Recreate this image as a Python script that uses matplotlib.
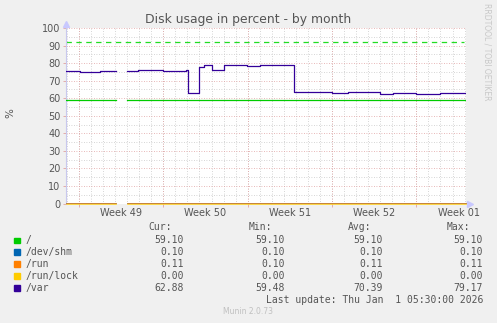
import numpy as np
import matplotlib
matplotlib.use("Agg")
import matplotlib.pyplot as plt
from matplotlib.patches import Rectangle

nan = np.nan

# x = days from left edge of the graph
week_starts = [1.08, 8.08, 15.08, 22.08, 29.08]
week_labels = ["Week 49", "Week 50", "Week 51", "Week 52", "Week 01"]

root_t = [0.0, 4.15, 5.05, 33.2]
root_v = [59.1, nan, 59.1, 59.1]

shm_t = [0.0, 4.15, 5.05, 33.2]
shm_v = [0.10, nan, 0.10, 0.10]

run_t = [0.0, 4.15, 5.05, 33.2]
run_v = [0.11, nan, 0.11, 0.11]

lock_t = [0.0, 4.15, 5.05, 33.2]
lock_v = [0.0, nan, 0.0, 0.0]

var_t = [0.0, 1.15, 2.8, 4.15, 5.05, 6.0, 8.05, 10.0, 10.15, 11.05, 11.45,
         12.1, 13.1, 15.0, 16.1, 18.9, 22.05, 23.4, 26.05, 27.15, 29.05,
         31.05, 33.2]
var_v = [75.3, 74.8, 75.3, nan, 75.3, 75.9, 75.3, 75.9, 62.9, 78.0, 78.9,
         76.0, 78.9, 78.4, 78.9, 63.3, 62.9, 63.3, 62.4, 62.9, 62.4,
         62.9, 62.9]

warning = 92

names = ["/", "/dev/shm", "/run", "/run/lock", "/var"]
colors = ["#00cc00", "#0066b3", "#ff8000", "#ffcc00", "#330099"]
cur = ["59.10", "0.10", "0.11", "0.00", "62.88"]
mins = ["59.10", "0.10", "0.10", "0.00", "59.48"]
avgs = ["59.10", "0.10", "0.11", "0.00", "70.39"]
maxs = ["59.10", "0.10", "0.11", "0.00", "79.17"]

W, H = 497, 323
bg = "#f0f0f0"
txt = "#555555"

fig = plt.figure(figsize=(W / 100, H / 100), dpi=100, facecolor=bg)
ax = fig.add_axes([66 / W, (H - 203.5) / H, 400 / W, 175.5 / H])
ax.set_facecolor("white")
ax.set_xlim(0, 33.2)
ax.set_ylim(0, 100)

# grid
for d in np.arange(week_starts[0] - 1, 33.2, 1.0):
    if d <= 0:
        continue
    ax.axvline(d, color="#c8c8c8", lw=0.6, ls=(0, (1, 2)), zorder=0)
for y in range(5, 100, 10):
    ax.axhline(y, color="#c8c8c8", lw=0.6, ls=(0, (1, 2)), zorder=0)
for d in week_starts:
    ax.axvline(d, color="#e0a0a0", lw=0.6, ls=(0, (1, 2)), zorder=0)
for y in range(10, 101, 10):
    ax.axhline(y, color="#e0a0a0", lw=0.6, ls=(0, (1, 2)), zorder=0)

ax.plot([0, 33.0], [warning, warning], color="#22dd22", lw=0.9,
        dashes=(4.3, 3.6), zorder=2)

series = [(root_t, root_v), (shm_t, shm_v), (run_t, run_v),
          (lock_t, lock_v), (var_t, var_v)]
for (t, v), c in zip(series, colors):
    low = np.nanmax(v) < 1
    ax.plot(t, v, color=c, lw=0.5 if low else 0.9, drawstyle="steps-post",
            zorder=3, clip_on=not low)

for s in ["top", "right", "bottom"]:
    ax.spines[s].set_visible(False)
ax.spines["left"].set_color("#c8c8ee")
ax.spines["left"].set_linewidth(0.8)

ax.set_yticks(range(0, 101, 10))
ax.set_xticks(week_starts)
ax.set_xticklabels([])
ax.tick_params(axis="both", length=2, width=0.6, color="#e0a0a0",
               labelsize=7, labelcolor=txt, pad=2)
for d, lab in zip(week_starts, week_labels):
    ax.text(d + 3.5, -2.5, lab, ha="center", va="top", fontsize=7,
            color=txt, clip_on=False)

# axis arrows
ax.plot(0, 1.025, marker="^", ms=4, color="#c8c8ff", transform=ax.transAxes,
        clip_on=False)
ax.plot(1.01, 0, marker=">", ms=4, color="#c8c8ff", transform=ax.transAxes,
        clip_on=False)

fig.text(248 / W, 1 - 19 / H, "Disk usage in percent - by month",
         ha="center", va="center", fontsize=8.9, color=txt)
fig.text(10 / W, 1 - 113 / H, "%", rotation=90, ha="center", va="center",
         fontsize=7.5, color=txt)
fig.text(487 / W, 1 - 52 / H, "RRDTOOL / TOBI OETIKER", rotation=270,
         ha="center", va="center", fontsize=5.5, color="#c8c8c8")

# legend
mono = dict(family="DejaVu Sans Mono", fontsize=7, color=txt, va="center")
col_x = [184, 285, 383, 483]
hdr_x = [172, 272, 371, 470]
for x, h in zip(hdr_x, ["Cur:", "Min:", "Avg:", "Max:"]):
    fig.text(x / W, 1 - 227.5 / H, h, ha="right", **mono)
for i, name in enumerate(names):
    y = 240 + 11.9 * i
    fig.patches.append(Rectangle((14 / W, 1 - (y + 3) / H), 5.5 / W, 5.5 / H,
                                 transform=fig.transFigure, color=colors[i]))
    fig.text(26 / W, 1 - y / H, name, ha="left", **mono)
    for x, vals in zip(col_x, [cur, mins, avgs, maxs]):
        fig.text(x / W, 1 - y / H, vals[i], ha="right", **mono)
fig.text(483 / W, 1 - 299.7 / H, "Last update: Thu Jan  1 05:30:00 2026",
         ha="right", **mono)
fig.text(248 / W, 1 - 311.7 / H, "Munin 2.0.73", ha="center", va="center",
         fontsize=5.5, color="#c0c0c0")

fig.savefig("out.png", dpi=100, facecolor=bg)
